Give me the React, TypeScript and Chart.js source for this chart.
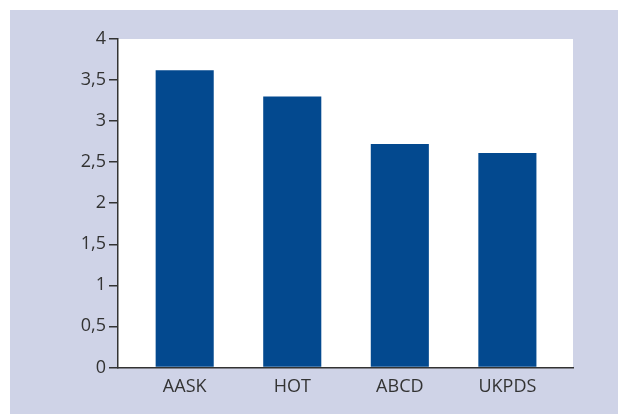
import React, { useEffect, useRef } from "react";
import { Chart, registerables } from "chart.js";

Chart.register(...registerables);

const categories = ["AASK", "HOT", "ABCD", "UKPDS"];
const values = [3.62, 3.3, 2.72, 2.61];
const yTicks = [0, 0.5, 1, 1.5, 2, 2.5, 3, 3.5, 4];

const plotBg = {
  id: "plotBg",
  beforeDraw(chart: any) {
    const { ctx, chartArea } = chart;
    ctx.save();
    ctx.fillStyle = "#ffffff";
    ctx.fillRect(chartArea.left, chartArea.top, chartArea.right - chartArea.left, chartArea.bottom - chartArea.top);
    ctx.restore();
  },
};

export default function App() {
  const ref = useRef<HTMLCanvasElement | null>(null);
  useEffect(() => {
    if (!ref.current) return;
    const font = { family: "'Open Sans', 'Noto Sans', sans-serif", size: 18, weight: "normal" as const };
    const chart = new Chart(ref.current, {
      type: "bar",
      data: {
        datasets: [
          {
            data: values.map((v, i) => ({ x: i, y: v })),
            backgroundColor: "#03498f",
            borderWidth: 0,
            barPercentage: 0.54,
            categoryPercentage: 1,
          },
        ],
      },
      options: {
        animation: false,
        responsive: false,
        maintainAspectRatio: false,
        layout: { padding: { top: 29, right: 45, left: 0, bottom: 7 } },
        plugins: { legend: { display: false }, tooltip: { enabled: false } },
        scales: {
          x: {
            type: "linear",
            offset: false,
            min: -0.62,
            max: 3.61,
            grid: { display: false, drawTicks: false, offset: false },
            border: { display: true, color: "#333333", width: 1.5 },
            afterBuildTicks: (s: any) => {
              s.ticks = categories.map((_, i) => ({ value: i }));
            },
            ticks: {
              autoSkip: false,
              maxRotation: 0,
              padding: 9,
              color: "#333333",
              font,
              callback: (v: any) => categories[Math.round(Number(v))] ?? "",
            },
          },
          y: {
            min: 0,
            max: 4,
            afterBuildTicks: (s: any) => {
              s.ticks = yTicks.map((v) => ({ value: v }));
            },
            afterFit: (s: any) => {
              s.width = 108;
            },
            grid: { display: true, drawOnChartArea: false, drawTicks: true, tickLength: 9, color: "#333333", lineWidth: 1.5 },
            border: { display: true, color: "#333333", width: 1.5 },
            ticks: {
              padding: 3,
              color: "#333333",
              font,
              callback: (v: any) => String(v).replace(".", ","),
            },
          },
        },
      },
      plugins: [plotBg],
    });
    return () => chart.destroy();
  }, []);

  return (
    <div style={{ position: "absolute", left: 0, top: 0, width: 618, height: 414, background: "#ffffff" }}>
      <div style={{ position: "absolute", left: 10, top: 10, width: 608, height: 404, background: "#cfd3e7" }}>
        <canvas ref={ref} width={608} height={404} style={{ display: "block", width: 608, height: 404 }} />
      </div>
    </div>
  );
}
